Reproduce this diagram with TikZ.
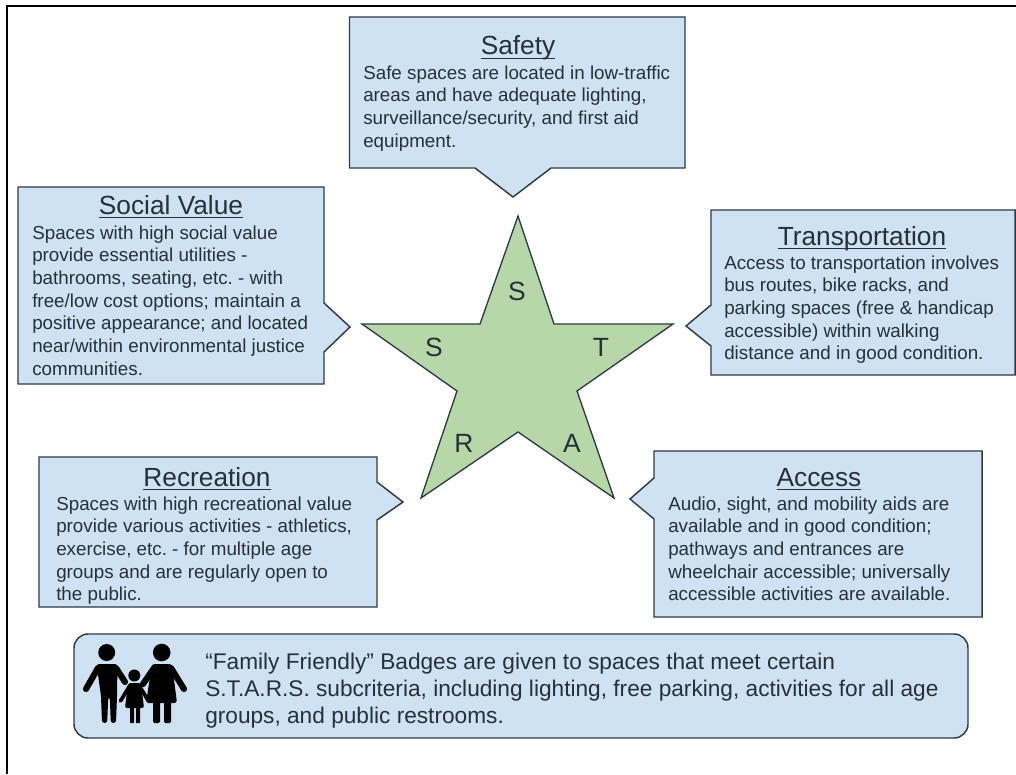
\documentclass[tikz,border=0pt]{standalone}
\usepackage{fontspec}
\setmainfont{Liberation Sans}
\frenchspacing
\definecolor{boxfill}{HTML}{CFE2F3}
\definecolor{starfill}{HTML}{B6D7A8}
\definecolor{inkline}{HTML}{2E3A44}
\definecolor{inktext}{HTML}{26303A}
\newcommand{\titlefont}{\fontsize{19.7pt}{22pt}\selectfont\color{inktext}}
\newcommand{\bodyfont}{\fontsize{14.1pt}{17pt}\selectfont\color{inktext}}
\newcommand{\famfont}{\fontsize{17pt}{20.3pt}\selectfont\color{inktext}}
\newcommand{\firstline}{\rule{0pt}{12pt}}
\newcommand{\famfirst}{\rule{0pt}{14pt}}
\newcommand{\titleline}[1]{\setbox0=\hbox{#1}\rlap{\rule[-3.2pt]{\wd0}{1.1pt}}\box0}
\tikzset{
 x=0.75pt,y=-0.75pt,
 boxshape/.style={draw=inkline,fill=boxfill,line width=1.1pt,line join=miter},
 starshape/.style={draw=inkline,fill=starfill,line width=1pt,line join=miter},
 titletext/.style={anchor=base,inner sep=0pt,font=\titlefont},
 bodytext/.style={anchor=north west,inner sep=0pt,align=left,font=\bodyfont},
 famtext/.style={anchor=north west,inner sep=0pt,align=left,font=\famfont},
 startext/.style={anchor=base,inner sep=0pt,font=\fontsize{19.8pt}{22pt}\selectfont\color{inktext}},
 iconpart/.style={fill=black,draw=none},
 iconlimb/.style={draw=black,line cap=round,line join=round},
}
\begin{document}
\begin{tikzpicture}
\useasboundingbox (0,0) rectangle (1016,774);
\fill[white] (0,0) rectangle (1016,774);
% frame
\draw[black,line width=1.9pt] (7,774) -- (7,6) -- (1016,6);
% callouts
\draw[boxshape] (349.5,17) -- (685,17) -- (685,168) -- (551,168) -- (513,197) -- (475,168) -- (349.5,168) -- cycle;
\draw[boxshape] (18,187) -- (324,187) -- (324,303) -- (350,327) -- (324,352) -- (324,384) -- (18,384) -- cycle;
\draw[boxshape] (711,210) -- (1015,210) -- (1015,375) -- (711,375) -- (711,346) -- (686,326) -- (711,305) -- cycle;
\draw[boxshape] (39,457) -- (377,457) -- (377,482) -- (403,502) -- (377,520) -- (377,607) -- (39,607) -- cycle;
\draw[boxshape] (654,451) -- (982,451) -- (982,617) -- (654,617) -- (654,519) -- (630,499) -- (654,478) -- cycle;
\draw[boxshape,rounded corners=10.5pt] (74,634) rectangle (968,738);
% star
\draw[starshape] (518,216) -- (554,324) -- (673,324) -- (577,391) -- (614,498) -- (518,432) -- (421,498) -- (457,391) -- (362,324) -- (480,324) -- cycle;
\node[startext] (s1) at (517,300) {S};
\node[startext] (s2) at (434,356) {S};
\node[startext] (t1) at (601,356) {T};
\node[startext] (r1) at (464,452) {R};
\node[startext] (a1) at (572,452) {A};
% titles
\node[titletext] (safetyT) at (518,55) {\titleline{Safety}};
\node[titletext] (socialT) at (171,214) {\titleline{Social Value}};
\node[titletext] (transT) at (862,245) {\titleline{Transportation}};
\node[titletext] (recT) at (207,486) {\titleline{Recreation}};
\node[titletext] (accT) at (819,486) {\titleline{Access}};
% bodies: first baseline minus 16 px
\node[bodytext] (safetyB) at (363,63) {\firstline Safe spaces are located in low-traffic\\areas and have adequate lighting,\\surveillance/security, and first aid\\equipment.};
\node[bodytext] (socialB) at (32,223) {\firstline Spaces with high social value\\provide essential utilities -\\bathrooms, seating, etc. - with\\free/low cost options; maintain a\\positive appearance; and located\\near/within environmental justice\\communities.};
\node[bodytext] (transB) at (724,253) {\firstline Access to transportation involves\\bus routes, bike racks, and\\parking spaces (free \& handicap\\accessible) within walking\\distance and in good condition.};
\node[bodytext] (recB) at (56,494) {\firstline Spaces with high recreational value\\provide various activities - athletics,\\exercise, etc. - for multiple age\\groups and are regularly open to\\the public.};
\node[bodytext] (accB) at (668,494) {\firstline Audio, sight, and mobility aids are\\available and in good condition;\\pathways and entrances are\\wheelchair accessible; universally\\accessible activities are available.};
\node[famtext] (fam) at (205,650.3) {\famfirst “Family Friendly” Badges are given to spaces that meet certain\\S.T.A.R.S. subcriteria, including lighting, free parking, activities for all age\\groups, and public restrooms.};
% family icon
% man
\fill[iconpart] (106.7,652.5) circle (8.5);
\fill[iconpart,rounded corners=2pt] (96.5,664) -- (117.5,664) -- (117,696) -- (116,723) -- (110.8,723) -- (109.8,697) -- (108.2,697) -- (107.2,723) -- (102,723) -- (101,696) -- cycle;
\draw[iconlimb,line width=4.6pt] (98,668) -- (86,689);
\draw[iconlimb,line width=4.6pt] (116,668) -- (125,682);
% woman
\fill[iconpart] (161.7,652.5) circle (8.8);
\fill[iconpart,rounded corners=2pt] (152,664) -- (172,664) -- (177,703) -- (146,703) -- cycle;
\fill[iconpart,rounded corners=1pt] (153,701) rectangle (160,723);
\fill[iconpart,rounded corners=1pt] (164,701) rectangle (171,723);
\draw[iconlimb,line width=4.6pt] (154,668) -- (143,684);
\draw[iconlimb,line width=4.6pt] (171,668) -- (184,689);
% child
\fill[iconpart] (134.3,675.5) circle (6);
\fill[iconpart,rounded corners=1.5pt] (128,683) -- (141,683) -- (144,708) -- (125,708) -- cycle;
\fill[iconpart,rounded corners=0.5pt] (130,706) rectangle (134,723);
\fill[iconpart,rounded corners=0.5pt] (136,706) rectangle (140,723);
\draw[iconlimb,line width=2.8pt] (129,687) -- (120.5,701);
\draw[iconlimb,line width=2.8pt] (140,687) -- (148.5,701);
\end{tikzpicture}
\end{document}
